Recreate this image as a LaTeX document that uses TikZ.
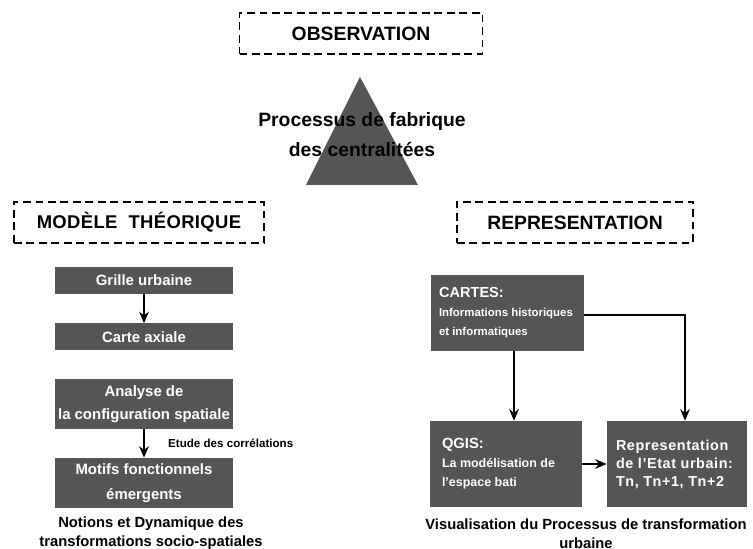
\documentclass[tikz,border=0pt]{standalone}
\usepackage{fontspec}
\setmainfont{Liberation Sans}
\usetikzlibrary{arrows.meta}

\definecolor{boxgray}{HTML}{555555}

\begin{document}
\begin{tikzpicture}[
    titlebox/.style={draw, dash pattern=on 4.5pt off 2.6pt, line width=1.1pt, minimum height=0.82cm},
    greybox/.style={fill=boxgray, text=white, font=\bfseries\fontsize{8.5}{13}\selectfont, align=center, minimum width=3.56cm, inner sep=0pt},
    infobox/.style={fill=boxgray, text=white, align=flush left},
    arr/.style={-{Stealth[length=6.5pt,width=5.5pt]}, line width=0.9pt},
    caption/.style={font=\bfseries\fontsize{8.4}{10.8}\selectfont, align=center}
  ]
  \useasboundingbox (0,0) rectangle (15.06,10.98);
  \def\leftx{2.88}

  % top
  \node[titlebox, minimum width=4.86cm, font=\bfseries\fontsize{11}{13}\selectfont] (obs) at (7.22,10.31) {OBSERVATION};
  \fill[boxgray] (7.20,9.44) -- (8.36,7.28) -- (6.12,7.28) -- cycle;
  \node[font=\bfseries\fontsize{11}{17}\selectfont, align=center] (proc) at (7.24,8.28) {Processus de fabrique\\des centralitées};

  % modele theorique
  \node[titlebox, minimum width=5cm, font=\bfseries\fontsize{10.5}{13}\selectfont\addfontfeature{LetterSpace=2}] (mod) at (2.78,6.53) {MODÈLE\hspace{0.3em} THÉORIQUE};
  \node[greybox, minimum height=0.54cm] (grille) at (\leftx,5.37) {Grille urbaine};
  \node[greybox, minimum height=0.54cm] (carte) at (\leftx,4.24) {Carte axiale};
  \node[greybox, minimum height=1cm] (analyse) at (\leftx,2.90) {Analyse de\\la configuration spatiale};
  \node[greybox, minimum height=1cm, font=\bfseries\fontsize{8.5}{14}\selectfont] (motifs) at (\leftx,1.32) {Motifs fonctionnels\\émergents};
  \node[font=\bfseries\fontsize{6.6}{8}\selectfont, anchor=west] (etude) at (3.24,2.12) {Etude des corrélations};
  \node[caption] (capl) at (3.02,0.31) {Notions et Dynamique des\\transformations socio-spatiales};

  \draw[arr] (grille) -- (carte);
  \draw[arr] (analyse) -- (motifs);

  % representation
  \node[titlebox, minimum width=4.72cm, font=\bfseries\fontsize{11}{13}\selectfont] (rep) at (11.5,6.53) {REPRESENTATION};
  \node[infobox, text width=2.74cm, inner xsep=0.16cm, minimum height=1.52cm, font=\bfseries\fontsize{6.5}{10.8}\selectfont] (cartes) at (10.15,4.72)
    {{\fontsize{8.3}{10.8}\selectfont CARTES:}\\Informations historiques\\et informatiques};
  \node[infobox, text width=2.56cm, inner xsep=0.24cm, minimum height=1.72cm, font=\bfseries\fontsize{7.1}{10.8}\selectfont] (qgis) at (10.12,1.70)
    {{\fontsize{8.4}{10.8}\selectfont QGIS:}\\La modélisation de\\l'espace bati};
  \node[infobox, text width=2.44cm, inner xsep=0.18cm, minimum height=1.72cm, font=\bfseries\fontsize{8.2}{10.2}\selectfont\addfontfeature{LetterSpace=4}] (etat) at (13.54,1.70)
    {Representation\\de l'Etat urbain:\\Tn, Tn+1, Tn+2};
  \node[caption] (capr) at (11.72,0.31) {Visualisation du Processus de transformation\\urbaine};

  \coordinate (cq) at (10.28,0);
  \coordinate (ce) at (13.70,4.68);
  \draw[arr] (cartes.south -| cq) -- (qgis.north -| cq);
  \draw[arr] (cartes.east |- ce) -| (etat.north -| ce);
  \draw[arr] (qgis) -- (etat);

\end{tikzpicture}
\end{document}
